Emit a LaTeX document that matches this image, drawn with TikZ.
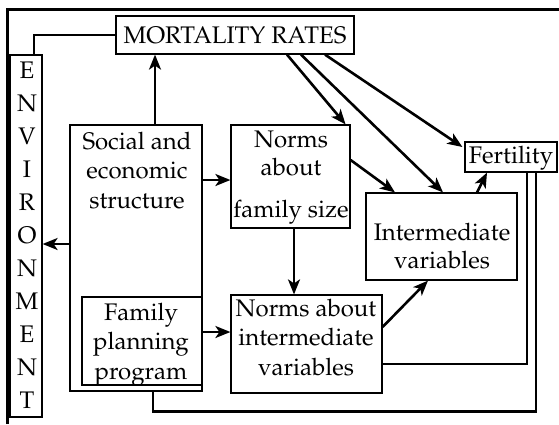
\documentclass[tikz,border=0pt]{standalone}
\usepackage[T1]{fontenc}
\usepackage{mathpazo}
\usetikzlibrary{arrows.meta,calc}

\begin{document}
\begin{tikzpicture}[x=1pt,y=-1pt,
  box/.style={draw,line width=1.2pt,inner sep=0pt,rectangle},
  lbl/.style={font=\fontsize{24}{29.5}\selectfont,align=center,inner sep=0pt,anchor=base},
  arr/.style={line width=2.6pt,-{Stealth[length=15pt,width=12pt,inset=4pt]}},
  link/.style={line width=2.6pt},
  frame/.style={line width=2.8pt}]
\useasboundingbox (0,0) rectangle (559,424);

% outer frame (top and left edges)
\draw[frame] (7.5,424) -- (7.5,9.5) -- (559,9.5);

% boxes
\node[box,minimum width=238pt,minimum height=38pt,font=\fontsize{24}{29.5}\selectfont] (mort) at (235,35) {MORTALITY RATES};
\node[box,minimum width=32pt,minimum height=362pt] (env) at (26,236) {};
\node[box,minimum width=132pt,minimum height=266pt] (soc) at (136,258) {};
\node[box,minimum width=120pt,minimum height=88pt] (fpp) at (142,341) {};
\node[box,minimum width=119pt,minimum height=103pt] (nfs) at (290.5,176.5) {};
\node[box,minimum width=151pt,minimum height=98pt] (niv) at (306.5,344) {};
\node[box,minimum width=151pt,minimum height=87pt] (iv) at (441.5,236.5) {};
\node[box,minimum width=92pt,minimum height=30pt] (fert) at (511,157) {};

% texts (anchored at the baseline of their last line)
\node[lbl,font=\fontsize{24}{33}\selectfont] (envT) at (27,408) {E\\N\\V\\I\\R\\O\\N\\M\\E\\N\\T};
\node[lbl] (socT) at (137,208) {Social and\\economic\\structure};
\node[lbl] (fppT) at (141,379) {Family\\planning\\program};
\node[lbl,font=\fontsize{24}{28}\selectfont] (nfsT) at (291,217) {Norms\\about\\[14pt]family size};
\node[lbl] (nivT) at (306,375) {Norms about\\intermediate\\variables};
\node[lbl,font=\fontsize{24}{28}\selectfont] (ivT) at (442,268) {Intermediate\\variables};
\node[lbl] (fertT) at (511,163) {Fertility};

% environment feeds mortality
\draw[link] ([xshift=8pt]env.north) |- (mort.west);

% arrows out of social and economic structure
\draw[arr] ([xshift=19pt]soc.north) coordinate (p1) -- (p1 |- mort.south);
\draw[arr] ([yshift=-3.5pt]nfs.west -| soc.east) coordinate (p2) -- (p2 -| nfs.west);
\draw[arr] ([yshift=14pt]soc.west) coordinate (p3) -- (p3 -| env.east);

% family planning program
\draw[arr] ([yshift=9pt]fpp.east) coordinate (p4) -- (p4 -| niv.west);

% norms
\draw[arr] ([xshift=3.5pt]nfs.south) coordinate (p5) -- (p5 |- niv.north);
\draw[arr] ([yshift=17pt]niv.east) -- ([xshift=-13.5pt]iv.south);
\draw[arr] ([yshift=16.5pt]nfs.east) -- ([xshift=-46.5pt]iv.north);

% mortality rates
\draw[arr] ([xshift=52pt]mort.south) -- ([xshift=-5pt]nfs.north east);
\draw[arr] ([xshift=66pt]mort.south) -- ([xshift=1.5pt]iv.north);
\draw[arr] ([xshift=90pt]mort.south) -- ([xshift=-2pt,yshift=10pt]fert.west);

% intermediate variables to fertility
\draw[arr] ([xshift=35.5pt]iv.north) -- ([xshift=-24pt]fert.south);

% feedback lines from fertility
\draw[link] ([xshift=16pt]fert.south) |- ([yshift=-20pt]niv.east);
\draw[link] ([xshift=17pt]soc.south) -- ++(0,20) -| ([xshift=25pt]fert.south);
\end{tikzpicture}
\end{document}
